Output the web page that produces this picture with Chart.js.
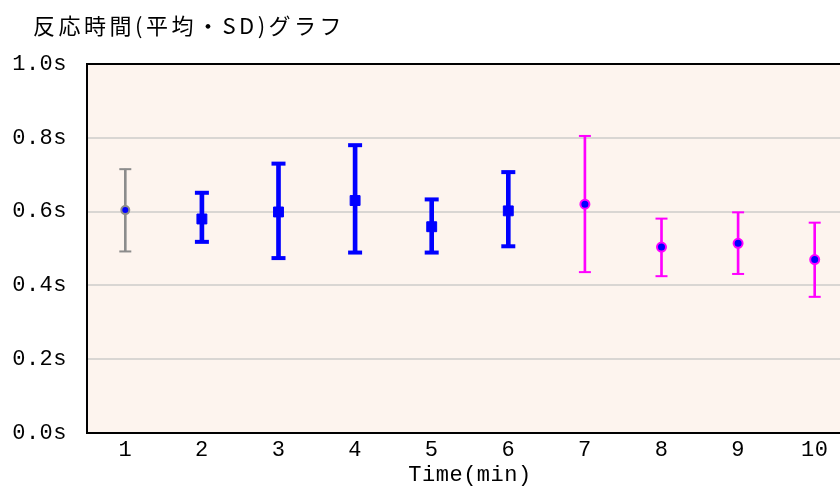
<!DOCTYPE html>
<html>
<head>
<meta charset="utf-8">
<script src="https://cdn.jsdelivr.net/npm/chart.js@4/dist/chart.umd.min.js"></script>
<style>
  html, body { margin: 0; padding: 0; background: #ffffff; overflow: hidden; }
  #wrap { width: 880px; height: 488px; }
</style>
</head>
<body>
<div id="wrap"><canvas id="chart"></canvas></div>
<script>
const chartTitle = '反応時間(平均・SD)グラフ';
const categories = ['1', '2', '3', '4', '5', '6', '7', '8', '9', '10'];
const meanValues = [0.604, 0.580, 0.599, 0.630, 0.559, 0.602, 0.620, 0.504, 0.514, 0.470];
const sdHigh = [0.715, 0.651, 0.730, 0.780, 0.633, 0.707, 0.805, 0.581, 0.598, 0.570];
const sdLow = [0.492, 0.518, 0.474, 0.489, 0.489, 0.506, 0.436, 0.425, 0.431, 0.369];
const groups = ['gray', 'blue', 'blue', 'blue', 'blue', 'blue', 'pink', 'pink', 'pink', 'pink'];
const yTickLabels = ['0.0s', '0.2s', '0.4s', '0.6s', '0.8s', '1.0s'];

const groupColor = { gray: '#8c8c8c', blue: '#0000ff', pink: '#ff00ff' };
const monoFont = { family: '"Liberation Mono", monospace', size: 22, lineHeight: 1.1 };

// plot background, frame, title and the wide letter spacing of the original
const plotFrame = {
    id: 'plotFrame',
    beforeLayout(chart) {
        chart.ctx.letterSpacing = '0.5px';
    },
    beforeDraw(chart) {
        const { ctx, chartArea: a } = chart;
        ctx.letterSpacing = '0.5px';
        ctx.save();
        ctx.fillStyle = '#fdf4ee';
        ctx.fillRect(a.left, a.top, a.right - a.left, a.bottom - a.top);
        ctx.restore();
    },
    afterDraw(chart) {
        const { ctx, chartArea: a } = chart;
        ctx.save();
        ctx.strokeStyle = '#000000';
        ctx.lineWidth = 2;
        ctx.strokeRect(a.left, a.top, a.right - a.left, a.bottom - a.top);
        ctx.letterSpacing = '3.5px';
        ctx.fillStyle = '#000000';
        ctx.font = '22px "Noto Sans CJK JP", sans-serif';
        ctx.textAlign = 'left';
        ctx.textBaseline = 'middle';
        ctx.fillText(chartTitle, 33, 26);
        ctx.restore();
    },
};

const isBlue = (i) => groups[i] === 'blue';
const meanRadius = (c) => (isBlue(c.dataIndex) ? 7 : groups[c.dataIndex] === 'gray' ? 4 : 4.5);
const capRadius = (c) => (isBlue(c.dataIndex) ? 7 : 6);
const capWidth = (c) => (isBlue(c.dataIndex) ? 4 : 2);

new Chart(document.getElementById('chart'), {
    type: 'bar',
    data: {
        labels: categories,
        datasets: [
            {
                type: 'line',
                label: 'mean',
                data: meanValues,
                showLine: false,
                order: 0,
                pointStyle: (c) => (isBlue(c.dataIndex) ? 'rect' : 'circle'),
                pointRadius: meanRadius,
                pointHoverRadius: meanRadius,
                pointBackgroundColor: '#0000ff',
                pointBorderColor: groups.map((g) => groupColor[g]),
                pointBorderWidth: (c) => (isBlue(c.dataIndex) ? 1 : 2),
            },
            {
                type: 'line',
                label: 'sdHigh',
                data: sdHigh,
                showLine: false,
                order: 1,
                pointStyle: 'line',
                pointRadius: capRadius,
                pointHoverRadius: capRadius,
                pointBorderColor: groups.map((g) => groupColor[g]),
                pointBorderWidth: capWidth,
            },
            {
                type: 'line',
                label: 'sdLow',
                data: sdLow,
                showLine: false,
                order: 1,
                pointStyle: 'line',
                pointRadius: capRadius,
                pointHoverRadius: capRadius,
                pointBorderColor: groups.map((g) => groupColor[g]),
                pointBorderWidth: capWidth,
            },
            {
                label: 'stemThick',
                data: categories.map((_, i) => (isBlue(i) ? [sdLow[i], sdHigh[i]] : null)),
                backgroundColor: '#0000ff',
                barThickness: 4,
                grouped: false,
                order: 2,
            },
            {
                label: 'stemThin',
                data: categories.map((_, i) => (isBlue(i) ? null : [sdLow[i], sdHigh[i]])),
                backgroundColor: groups.map((g) => groupColor[g]),
                barThickness: 2,
                grouped: false,
                order: 2,
            },
        ],
    },
    options: {
        responsive: true,
        maintainAspectRatio: false,
        animation: false,
        layout: { padding: { left: 0, right: 27, top: 64, bottom: 0 } },
        plugins: {
            legend: { display: false },
            tooltip: { enabled: false },
        },
        scales: {
            x: {
                offset: true,
                grid: { display: false, drawTicks: false },
                border: { display: false },
                ticks: { color: '#000000', font: monoFont, padding: 5 },
                title: {
                    display: true,
                    text: 'Time(min)',
                    color: '#000000',
                    font: monoFont,
                    padding: { top: 0, bottom: 1 },
                },
                afterFit: (scale) => { scale.height = 55; },
            },
            y: {
                min: 0,
                max: 1,
                grid: { color: '#d9d6d3', lineWidth: 2, drawTicks: false },
                border: { display: false },
                ticks: {
                    stepSize: 0.2,
                    padding: 20,
                    color: '#000000',
                    font: monoFont,
                    callback: (v) => yTickLabels[Math.round(v * 5)],
                },
                afterFit: (scale) => { scale.width = 87; },
            },
        },
    },
    plugins: [plotFrame],
});
</script>
</body>
</html>
